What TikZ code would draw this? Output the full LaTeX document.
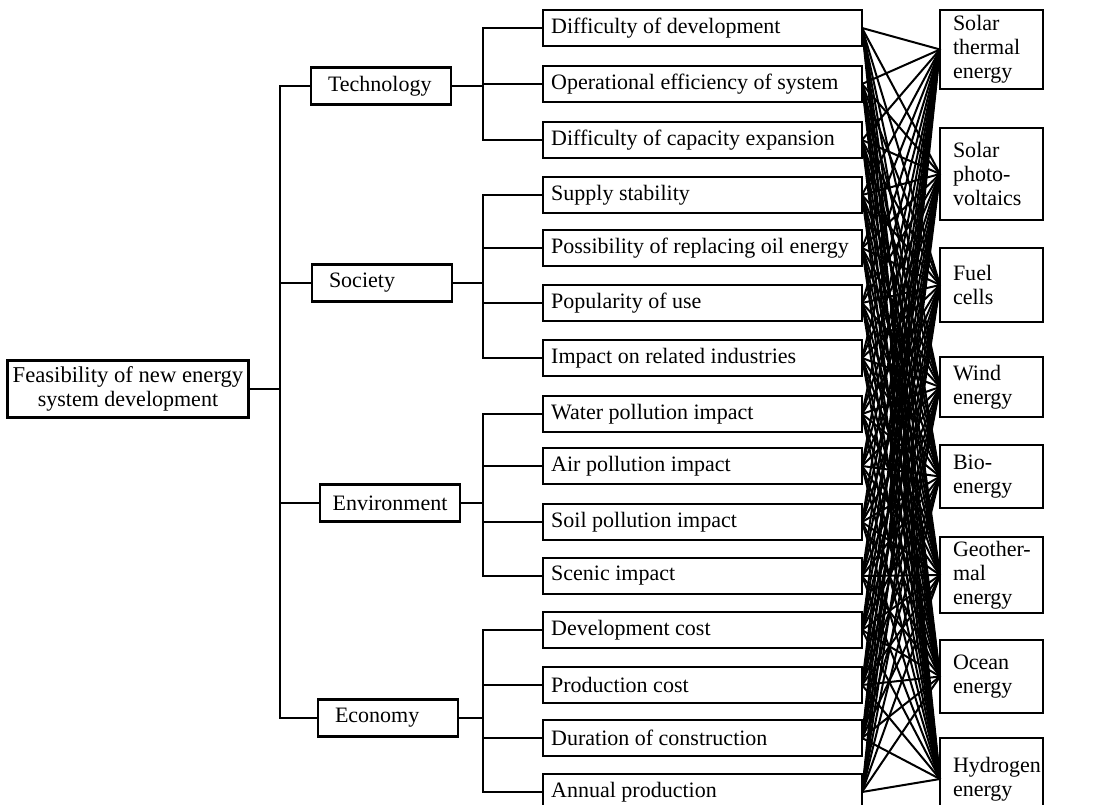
\documentclass[tikz,border=0pt]{standalone}
\usepackage{fontspec}
\setmainfont{Liberation Serif}
\begin{document}
\begin{tikzpicture}[x=0.75pt,y=-0.75pt,
  font=\fontsize{16.5}{18}\selectfont,
  box/.style={draw, line width=1.6pt, inner sep=0pt, outer sep=0pt},
  crit/.style={box, anchor=west, minimum width=319*0.75pt, minimum height=36*0.75pt},
  cat/.style={box, minimum width=140*0.75pt, minimum height=37*0.75pt},
  alt/.style={box, anchor=west, align=left, minimum width=103*0.75pt},
  link/.style={line width=1.6pt},
  web/.style={line width=1.5pt}]
\useasboundingbox (0,0) rectangle (1094,805);
\fill[white] (0,0) rectangle (1094,805);

% root
\node[box, align=center, minimum width=241*0.75pt, minimum height=57*0.75pt] (main) at (128,389)
  {\fontsize{17}{18.5}\selectfont Feasibility of new energy\\system development};

% categories
\node[cat] (tech) at (381,86)  {\makebox[79.5pt][l]{Technology}};
\node[cat] (soc)  at (382,283) {\makebox[79.5pt][l]{Society}};
\node[cat] (env)  at (390,503) {Environment};
\node[cat] (econ) at (388,718) {\makebox[79.5pt][l]{Economy}};

% criteria
\newcommand{\ct}[1]{\makebox[227pt][l]{#1}}
\node[crit] (c1)  at (543,28)  {\ct{Difficulty of development}};
\node[crit] (c2)  at (543,84)  {\ct{Operational efficiency of system}};
\node[crit] (c3)  at (543,140) {\ct{Difficulty of capacity expansion}};
\node[crit] (c4)  at (543,195) {\ct{Supply stability}};
\node[crit] (c5)  at (543,248) {\ct{Possibility of replacing oil energy}};
\node[crit] (c6)  at (543,303) {\ct{Popularity of use}};
\node[crit] (c7)  at (543,358) {\ct{Impact on related industries}};
\node[crit] (c8)  at (543,414) {\ct{Water pollution impact}};
\node[crit] (c9)  at (543,466) {\ct{Air pollution impact}};
\node[crit] (c10) at (543,522) {\ct{Soil pollution impact}};
\node[crit] (c11) at (543,576) {\ct{Scenic impact}};
\node[crit] (c12) at (543,630) {\ct{Development cost}};
\node[crit] (c13) at (543,685) {\ct{Production cost}};
\node[crit] (c14) at (543,738) {\ct{Duration of construction}};
\node[crit] (c15) at (543,792) {\ct{Annual production}};

% alternatives
\newcommand{\al}[1]{\makebox[57.75pt][l]{#1}}
\node[alt, minimum height=79*0.75pt] (a1) at (940,49.5)
  {\al{Solar}\\\al{thermal}\\\al{energy}};
\node[alt, minimum height=92*0.75pt] (a2) at (940,174)
  {\al{Solar}\\\al{photo-}\\\al{voltaics}};
\node[alt, minimum height=74*0.75pt] (a3) at (940,285)
  {\al{Fuel}\\\al{cells}};
\node[alt, minimum height=60*0.75pt] (a4) at (940,387)
  {\al{Wind}\\\al{energy}};
\node[alt, minimum height=63*0.75pt] (a5) at (940,476.5)
  {\al{Bio-}\\\al{energy}};
\node[alt, minimum height=76*0.75pt] (a6) at (940,575)
  {\al{Geother-}\\\al{mal}\\\al{energy}};
\node[alt, minimum height=73*0.75pt] (a7) at (940,676.5)
  {\al{Ocean}\\\al{energy}};
\node[alt, minimum height=82*0.75pt] (a8) at (940,779)
  {\al{Hydrogen}\\\al{energy}};

% tree connectors
\coordinate (trunk) at (280,0);
\coordinate (t2) at (483,0);
\draw[link] (main.east) -- (main.east -| trunk);
\draw[link] (tech.west) -- (tech.west -| trunk) -- (econ.west -| trunk) -- (econ.west);
\draw[link] (soc.west) -- (soc.west -| trunk);
\draw[link] (env.west) -- (env.west -| trunk);

\draw[link] (tech.east) -- (tech.east -| t2);
\draw[link] (c1.west) -- (c1.west -| t2) -- (c3.west -| t2) -- (c3.west);
\draw[link] (c2.west) -- (c2.west -| t2);

\draw[link] (soc.east) -- (soc.east -| t2);
\draw[link] (c4.west) -- (c4.west -| t2) -- (c7.west -| t2) -- (c7.west);
\foreach \c in {c5,c6} \draw[link] (\c.west) -- (\c.west -| t2);

\draw[link] (env.east) -- (env.east -| t2);
\draw[link] (c8.west) -- (c8.west -| t2) -- (c11.west -| t2) -- (c11.west);
\foreach \c in {c9,c10} \draw[link] (\c.west) -- (\c.west -| t2);

\draw[link] (econ.east) -- (econ.east -| t2);
\draw[link] (c12.west) -- (c12.west -| t2) -- (c15.west -| t2) -- (c15.west);
\foreach \c in {c13,c14} \draw[link] (\c.west) -- (\c.west -| t2);

% complete bipartite web
\foreach \c in {c1,c2,c3,c4,c5,c6,c7,c8,c9,c10,c11,c12,c13,c14,c15}
  \foreach \a in {a1,a2,a3,a4,a5,a6,a7,a8}
    \draw[web] (\c.east) -- (\a.west);
\end{tikzpicture}
\end{document}
